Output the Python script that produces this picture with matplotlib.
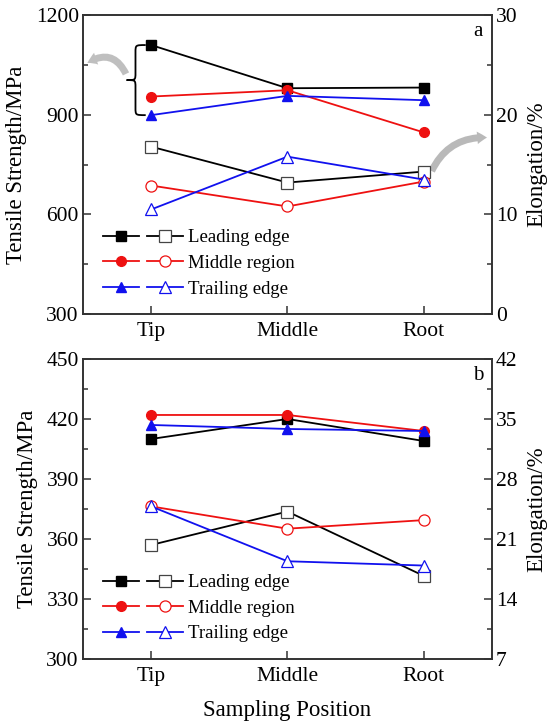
import matplotlib
matplotlib.use("Agg")
import matplotlib.pyplot as plt
import numpy as np
from matplotlib.path import Path
from matplotlib.patches import PathPatch, FancyArrowPatch
from matplotlib.legend_handler import HandlerTuple
from matplotlib.ticker import MultipleLocator

plt.rcParams['font.family'] = ['Liberation Serif', 'DejaVu Serif']

positions = ["Tip", "Middle", "Root"]
series = ["Leading edge", "Middle region", "Trailing edge"]

# panel a
ts_a = {
    "Leading edge": [1110, 980, 982],
    "Middle region": [955, 974, 847],
    "Trailing edge": [899, 957, 944],
}
el_a = {
    "Leading edge": [16.8, 13.2, 14.3],
    "Middle region": [12.9, 10.8, 13.3],
    "Trailing edge": [10.5, 15.8, 13.5],
}
# panel b
ts_b = {
    "Leading edge": [410, 420, 409],
    "Middle region": [422, 422, 414],
    "Trailing edge": [417, 415, 414],
}
el_b = {
    "Leading edge": [20.3, 24.2, 16.7],
    "Middle region": [24.8, 22.2, 23.2],
    "Trailing edge": [24.8, 18.4, 17.9],
}

colors = {"Leading edge": "black", "Middle region": "#ee1111", "Trailing edge": "#1111ee"}
markers = {"Leading edge": "s", "Middle region": "o", "Trailing edge": "^"}

x = np.arange(len(positions))
spine_c = "#333333"


def style_axis(ax):
    for s in ax.spines.values():
        s.set_color(spine_c)
        s.set_linewidth(1.2)
    ax.tick_params(which="both", direction="in", colors=spine_c, labelcolor="black", labelsize=15.5, top=False)
    ax.tick_params(which="major", length=6, width=1.1)
    ax.tick_params(which="minor", length=3.5, width=1.1)


def draw_panel(ax, ts, el, ylim_l, step_l, ylim_r, step_r, letter):
    ax2 = ax.twinx()
    handles = []
    for name in series:
        c = colors[name]
        m = markers[name]
        h1, = ax.plot(x, ts[name], color=c, marker=m, markersize=7, lw=1.3, mfc=c, mec=c)
        h2, = ax2.plot(x, el[name], color=c, marker=m, markersize=8, lw=1.3, mfc="white",
                       mec=c if name != "Leading edge" else "#444444", mew=0.9)
        handles.append((h1, h2))
    ax.set_xlim(-0.5, 2.5)
    ax.set_ylim(*ylim_l)
    ax.yaxis.set_major_locator(MultipleLocator(step_l))
    ax.yaxis.set_minor_locator(MultipleLocator(step_l / 2))
    ax2.set_ylim(*ylim_r)
    ax2.yaxis.set_major_locator(MultipleLocator(step_r))
    ax2.yaxis.set_minor_locator(MultipleLocator(step_r / 2))
    ax.set_xticks(x)
    ax.set_xticklabels(positions)
    style_axis(ax)
    style_axis(ax2)
    ax.tick_params(axis="x", pad=6)
    ax.tick_params(axis="y", pad=3)
    ax2.tick_params(axis="y", pad=3)
    ax.set_ylabel("Tensile Strength/MPa", fontsize=16.5, labelpad=6)
    ax2.set_ylabel("Elongation/%", fontsize=16.5, labelpad=6)
    ax.text(0.966, 0.945, letter, transform=ax.transAxes, fontsize=15, ha="center", va="center")
    ax.legend(handles, series, handler_map={tuple: HandlerTuple(ndivide=None, pad=0.45)},
              loc="lower left", bbox_to_anchor=(0.03, 0.03), frameon=False, fontsize=13.5,
              handlelength=4.3, handletextpad=0.25, labelspacing=0.45, borderaxespad=0.0)
    return ax2


fig = plt.figure(figsize=(5.48, 7.22), dpi=100)
ax_a = fig.add_axes([0.1515, 0.565, 0.746, 0.414])
ax_b = fig.add_axes([0.1515, 0.0873, 0.746, 0.4155])

draw_panel(ax_a, ts_a, el_a, (300, 1200), 300, (0, 30), 10, "a")
draw_panel(ax_b, ts_b, el_b, (300, 450), 30, (7, 42), 7, "b")
ax_b.set_xlabel("Sampling Position", fontsize=16.5, labelpad=10)

# curly brace grouping the Tip tensile points in panel a
xe, xv, xt = -0.04, -0.115, -0.18
yt, yb = 1110, 899
ym = (yt + yb) / 2
r = 22
verts = [
    (xe, yt), (xv, yt), (xv, yt), (xv, yt - r),
    (xv, ym + r),
    (xv, ym), (xv, ym), (xt, ym),
    (xv, ym), (xv, ym), (xv, ym - r),
    (xv, yb + r),
    (xv, yb), (xv, yb), (xe, yb),
]
codes = [Path.MOVETO, Path.CURVE4, Path.CURVE4, Path.CURVE4,
         Path.LINETO,
         Path.CURVE4, Path.CURVE4, Path.CURVE4,
         Path.CURVE4, Path.CURVE4, Path.CURVE4,
         Path.LINETO,
         Path.CURVE4, Path.CURVE4, Path.CURVE4]
ax_a.add_patch(PathPatch(Path(verts, codes), fill=False, lw=1.3, color="black", clip_on=False))

# gray curved arrows pointing to the axes
arr1 = FancyArrowPatch((0.108, 0.795), (0.005, 0.835), transform=ax_a.transAxes,
                       connectionstyle="arc3,rad=0.6",
                       arrowstyle="simple,head_width=9,head_length=7,tail_width=5",
                       color="#b0b0b0", alpha=0.8, lw=0, clip_on=False)
arr2 = FancyArrowPatch((0.85, 0.47), (0.995, 0.59), transform=ax_a.transAxes,
                       connectionstyle="arc3,rad=-0.35",
                       arrowstyle="simple,head_width=9,head_length=7,tail_width=5",
                       color="#a8a8a8", alpha=0.8, lw=0, clip_on=False)
ax_a.add_patch(arr1)
ax_a.add_patch(arr2)

fig.savefig("out.png", dpi=100)
